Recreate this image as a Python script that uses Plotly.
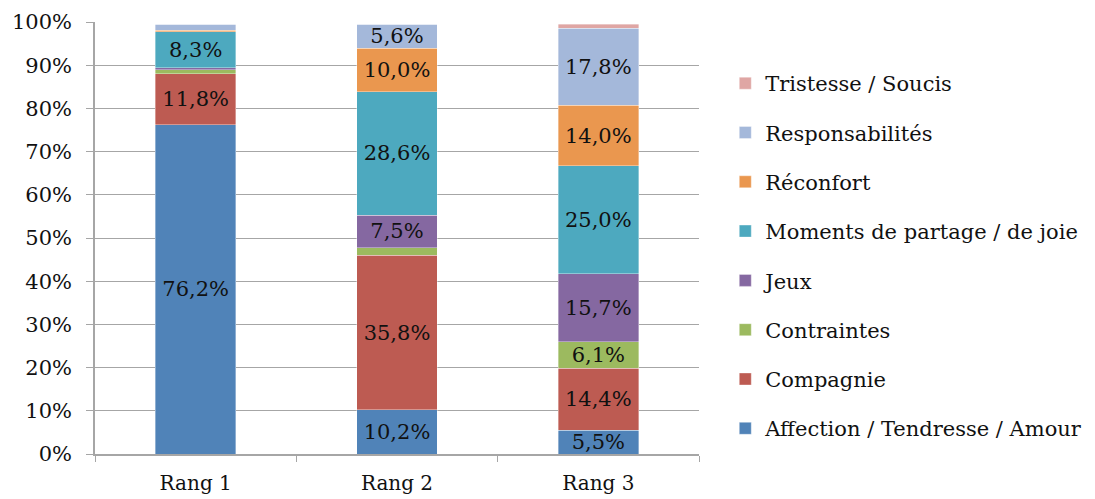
import plotly.graph_objects as go

# Ranks on the x axis
rangs = ["Rang 1", "Rang 2", "Rang 3"]

# Share of answers (%) per theme, bottom to top of each stack
affection = [76.2, 10.2, 5.5]
compagnie = [11.8, 35.8, 14.4]
contraintes = [1.0, 1.8, 6.1]
jeux = [0.4, 7.5, 15.7]
moments = [8.3, 28.6, 25.0]
reconfort = [0.4, 10.0, 14.0]
responsabilites = [1.4, 5.6, 17.8]
tristesse = [0.0, 0.0, 1.0]

series = [
    ("Affection / Tendresse / Amour", affection, "#5083B8"),
    ("Compagnie", compagnie, "#BD5B52"),
    ("Contraintes", contraintes, "#9CBA5F"),
    ("Jeux", jeux, "#8568A1"),
    ("Moments de partage / de joie", moments, "#4DA9BF"),
    ("Réconfort", reconfort, "#EA974F"),
    ("Responsabilités", responsabilites, "#A4B8DA"),
    ("Tristesse / Soucis", tristesse, "#DFA6A4"),
]

FONT = "DejaVu Serif"
fig = go.Figure()
n = len(series)
for i, (name, vals, color) in enumerate(series):
    # only segments large enough carry a value label
    labels = [f"{v:.1f}%".replace(".", ",") if v >= 5 else "" for v in vals]
    fig.add_trace(go.Bar(
        x=rangs, y=vals, name=name,
        marker=dict(color=color, line=dict(color="rgba(255,255,255,0.6)", width=0.6)),
        text=labels, textposition="inside", insidetextanchor="middle",
        textangle=0, constraintext="none",
        textfont=dict(family=FONT, size=21, color="#111111"),
        width=0.4, legendgroup=f"g{i}", legendrank=n - i, hoverinfo="skip",
    ))

fig.update_layout(
    width=1095, height=499,
    barmode="stack",
    plot_bgcolor="white", paper_bgcolor="white",
    margin=dict(l=95, r=396, t=22, b=45, autoexpand=False),
    font=dict(family=FONT, size=20, color="#111111"),
    showlegend=True,
    legend=dict(
        traceorder="grouped", tracegroupgap=19,
        x=1.0435, xanchor="left", y=0.905, yanchor="top",
        font=dict(family=FONT, size=21, color="#111111"),
        bgcolor="rgba(0,0,0,0)", itemclick=False,
    ),
    bargap=0.6,
)
fig.update_xaxes(
    showline=True, linecolor="#A6A6A6", linewidth=1.5,
    ticks="outside", tickson="boundaries", ticklen=6, tickcolor="#A6A6A6",
    tickfont=dict(family=FONT, size=20, color="#111111"),
    ticklabelstandoff=10, showgrid=False, automargin=False,
)
fig.update_yaxes(
    range=[0, 100], dtick=10, ticksuffix="%",
    showline=True, linecolor="#A6A6A6", linewidth=1.5,
    ticks="outside", ticklen=7, tickcolor="#A6A6A6",
    showgrid=True, gridcolor="#A6A6A6", gridwidth=1.2,
    tickfont=dict(family=FONT, size=21, color="#111111"),
    ticklabelstandoff=10, zeroline=False, automargin=False,
)

fig.write_html("out.html")
